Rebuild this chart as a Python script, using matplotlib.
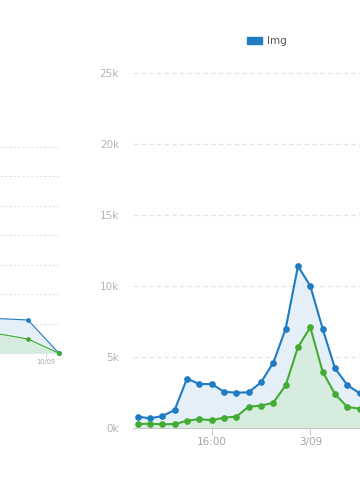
import matplotlib
matplotlib.use("Agg")
import matplotlib.pyplot as plt
from matplotlib.patches import Patch

# right chart: hourly points from 10:00 on 2/09
hours = list(range(19))
img_total = [820, 700, 860, 1290, 3490, 3110, 3110, 2570, 2500, 2530,
             3230, 4610, 7000, 11400, 10000, 7000, 4220, 3040, 2460]
img_cached = [300, 320, 280, 300, 530, 650, 560, 750, 820, 1520,
              1590, 1800, 3020, 5710, 7100, 3980, 2410, 1500, 1380]
hour_ticks = [6, 14]
hour_labels = ["16:00", "3/09"]
y_ticks = [0, 5000, 10000, 15000, 20000, 25000]
y_labels = ["0k", "5k", "10k", "15k", "20k", "25k"]

# left chart (only its right end is visible)
left_x = [-1, 0, 1]
left_total = [1180, 1130, 0]
left_cached = [670, 485, 0]
left_ticks = [0.58]
left_labels = ["10/09"]

blue = "#1f7bc2"
green = "#43ab33"
blue_fill = "#e5eff8"
green_fill = "#d5ecdf"
grid_col = "#e3e3e3"


def box(l, t, r, b):
    return [l / 360, 1 - b / 500, (r - l) / 360, (b - t) / 500]


fig = plt.figure(figsize=(3.6, 5), dpi=100)

# ---- right chart
ax = fig.add_axes(box(133, 428.3 - 25.3 * 14.23, 360, 428.3))
ax.fill_between(hours, 0, img_total, color=blue_fill, lw=0)
ax.fill_between(hours, 0, img_cached, color=green_fill, lw=0)
ax.plot(hours, img_total, color=blue, lw=1.5, marker="o", ms=3.8, clip_on=False, zorder=3)
ax.plot(hours, img_cached, color=green, lw=1.5, marker="o", ms=3.8, clip_on=False, zorder=3)
ax.set_xlim(-0.38, 18.03)
ax.set_ylim(0, 25300)
ax.set_yticks(y_ticks)
ax.set_yticklabels(y_labels)
ax.set_xticks(hour_ticks)
ax.set_xticklabels(hour_labels)
ax.yaxis.grid(True, linestyle=(0, (4, 3)), color=grid_col, lw=0.8)
ax.set_axisbelow(True)
for s in ["top", "right", "left"]:
    ax.spines[s].set_visible(False)
ax.spines["bottom"].set_color("#c8c8c8")
ax.tick_params(axis="y", length=0, pad=10, labelsize=7.5, labelcolor="#b3b3b3")
ax.tick_params(axis="x", length=5, width=0.8, color="#c8c8c8", pad=1.5,
               labelsize=7.5, labelcolor="#a5a5a5")

fig.legend(handles=[Patch(color=blue, label="Img")], loc="center left",
           bbox_to_anchor=(247 / 360, 1 - 41 / 500), frameon=False,
           borderpad=0, borderaxespad=0, handlelength=1.45, handleheight=0.75,
           handletextpad=0.45, prop={"size": 7.5}, labelcolor="#555555")

# ---- left chart
ax2 = fig.add_axes(box(0, 353.3 - 7.05 * 29.47, 60.5, 353.3))
ax2.fill_between(left_x, 0, left_total, color=blue_fill, lw=0)
ax2.fill_between(left_x, 0, left_cached, color=green_fill, lw=0)
ax2.plot(left_x, left_total, color=blue, lw=0.8, marker="o", ms=2.4, clip_on=False, zorder=3)
ax2.plot(left_x, left_cached, color=green, lw=0.8, marker="o", ms=2.4, clip_on=False, zorder=3)
ax2.set_xlim(-0.903, 1.05)
ax2.set_ylim(0, 7050)
ax2.set_yticks([1000, 2000, 3000, 4000, 5000, 6000, 7000])
ax2.set_yticklabels([])
ax2.set_xticks(left_ticks)
ax2.set_xticklabels(left_labels)
ax2.yaxis.grid(True, linestyle=(0, (2.5, 2)), color=grid_col, lw=0.7)
ax2.set_axisbelow(True)
for s in ["top", "right", "left", "bottom"]:
    ax2.spines[s].set_visible(False)
ax2.tick_params(axis="y", length=0)
ax2.tick_params(axis="x", length=3, width=0.6, color="#cccccc", pad=1,
                labelsize=4.8, labelcolor="#a8a8a8")

fig.savefig("out.png", dpi=100)
